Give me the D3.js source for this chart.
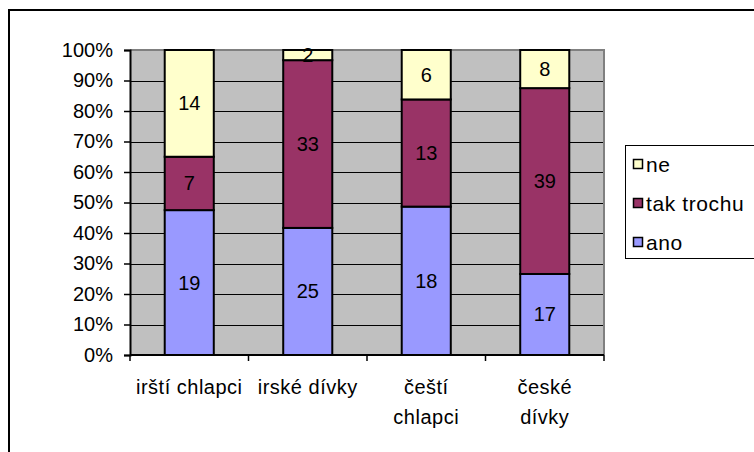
<!DOCTYPE html>
<html>
<head>
<meta charset="utf-8">
<script src="https://cdn.jsdelivr.net/npm/d3@7"></script>
<style>
  body { margin: 0; background: #fff; }
  text { font-family: "Liberation Sans", Arial, sans-serif; fill: #000; }
</style>
</head>
<body>
<div class="chart"></div>
<script>
// data
var categories = ['irští chlapci', 'irské dívky', 'čeští chlapci', 'české dívky'];
var categoryLines = [['irští chlapci'], ['irské dívky'], ['čeští', 'chlapci'], ['české', 'dívky']];
var seriesNames = ['ano', 'tak trochu', 'ne'];
var ano = [19, 25, 18, 17];
var takTrochu = [7, 33, 13, 39];
var ne = [14, 2, 6, 8];
var colors = ['#9999FF', '#993366', '#FFFFCC'];
var yTicks = [0, 0.1, 0.2, 0.3, 0.4, 0.5, 0.6, 0.7, 0.8, 0.9, 1];

var rows = categories.map(function (c, i) {
    return { cat: c, 'ano': ano[i], 'tak trochu': takTrochu[i], 'ne': ne[i] };
});

var width = 754, height = 452;
var plotLeft = 130, plotRight = 604, plotTop = 50, plotBottom = 355;

var svg = d3.select('.chart')
    .append('svg')
    .attr('width', width)
    .attr('height', height);

// outer chart border (runs off the picture right and bottom)
svg.append('rect')
    .attr('x', 9).attr('y', 10)
    .attr('width', 800).attr('height', 500)
    .attr('fill', 'none')
    .attr('stroke', '#000')
    .attr('stroke-width', 2);

var x = d3.scaleBand()
    .domain(categories)
    .range([plotLeft, plotRight])
    .paddingInner(0.586)
    .paddingOuter(0.293);
var xTick = d3.scaleBand().domain(categories).range([plotLeft, plotRight]);
var y = d3.scaleLinear().domain([0, 1]).range([plotBottom, plotTop]);

// plot area
svg.append('rect')
    .attr('x', plotLeft).attr('y', plotTop)
    .attr('width', plotRight - plotLeft).attr('height', plotBottom - plotTop)
    .attr('fill', '#C0C0C0');

svg.selectAll('.grid').data(yTicks.slice(1, -1)).enter()
    .append('line')
    .attr('x1', plotLeft).attr('x2', plotRight)
    .attr('y1', function (d) { return Math.round(y(d)) + 0.5; })
    .attr('y2', function (d) { return Math.round(y(d)) + 0.5; })
    .attr('stroke', '#000')
    .attr('stroke-width', 1);

// gray plot border top/right
svg.append('path')
    .attr('d', 'M' + plotLeft + ' ' + plotTop + ' L' + plotRight + ' ' + plotTop + ' L' + plotRight + ' ' + plotBottom)
    .attr('fill', 'none')
    .attr('stroke', '#808080')
    .attr('stroke-width', 2);

// bars
var stack = d3.stack().keys(seriesNames).offset(d3.stackOffsetExpand);
var layers = stack(rows);

var g = svg.selectAll('.layer').data(layers).enter()
    .append('g')
    .attr('fill', function (d, i) { return colors[i]; });

g.selectAll('rect').data(function (d) { return d; }).enter()
    .append('rect')
    .attr('x', function (d) { return x(d.data.cat); })
    .attr('y', function (d) { return y(d[1]); })
    .attr('width', x.bandwidth())
    .attr('height', function (d) { return y(d[0]) - y(d[1]); })
    .attr('stroke', '#000')
    .attr('stroke-width', 2);

// value labels
layers.forEach(function (layer) {
    svg.selectAll('.lbl-' + layer.index).data(layer).enter()
        .append('text')
        .attr('x', function (d) { return x(d.data.cat) + x.bandwidth() / 2; })
        .attr('y', function (d) { return y((d[0] + d[1]) / 2) + 7; })
        .attr('text-anchor', 'middle')
        .attr('font-size', '20px')
        .text(function (d) { return d.data[layer.key]; });
});

// y axis
var yAxis = svg.append('g')
    .attr('transform', 'translate(' + plotLeft + ',0)')
    .call(d3.axisLeft(y).tickValues(yTicks).tickFormat(d3.format('.0%')).tickSize(6).tickPadding(11));
yAxis.select('.domain').attr('stroke', '#000').attr('stroke-width', 2);
yAxis.selectAll('.tick line').attr('stroke', '#000').attr('stroke-width', 1.5);
yAxis.selectAll('text')
    .attr('font-size', '20px')
    .attr('font-family', '"Liberation Sans", Arial, sans-serif')
    .attr('fill', '#000');

// x axis
var xAxisG = svg.append('g');
xAxisG.append('line')
    .attr('x1', plotLeft).attr('x2', plotRight)
    .attr('y1', plotBottom).attr('y2', plotBottom)
    .attr('stroke', '#000').attr('stroke-width', 2);
xAxisG.selectAll('.xt').data(categories.concat(['end'])).enter()
    .append('line')
    .attr('x1', function (d, i) { return plotLeft + xTick.step() * i; })
    .attr('x2', function (d, i) { return plotLeft + xTick.step() * i; })
    .attr('y1', plotBottom).attr('y2', plotBottom + 6)
    .attr('stroke', '#000').attr('stroke-width', 1.5);

xAxisG.selectAll('.xl').data(categories).enter()
    .append('text')
    .attr('text-anchor', 'middle')
    .attr('font-size', '20px')
    .attr('letter-spacing', '0.5px')
    .each(function (d, i) {
        var t = d3.select(this);
        categoryLines[i].forEach(function (line, j) {
            t.append('tspan')
                .attr('x', xTick(d) + xTick.bandwidth() / 2)
                .attr('y', 394 + j * 30)
                .text(line);
        });
    });

// legend
var legend = svg.append('g');
legend.append('rect')
    .attr('x', 625.5).attr('y', 145.5)
    .attr('width', 200).attr('height', 113)
    .attr('fill', '#fff')
    .attr('stroke', '#000')
    .attr('stroke-width', 1);

var legendOrder = seriesNames.slice().reverse();
var li = legend.selectAll('.li').data(legendOrder).enter()
    .append('g')
    .attr('transform', function (d, i) { return 'translate(633,' + (172 + i * 39) + ')'; });
li.append('rect')
    .attr('x', 0.5).attr('y', -12.5)
    .attr('width', 9).attr('height', 9)
    .attr('fill', function (d) { return colors[seriesNames.indexOf(d)]; })
    .attr('stroke', '#000')
    .attr('stroke-width', 1.5);
li.append('text')
    .attr('x', 13).attr('y', 0)
    .attr('font-size', '21px')
    .attr('letter-spacing', '0.6px')
    .text(function (d) { return d; });
</script>
</body>
</html>
